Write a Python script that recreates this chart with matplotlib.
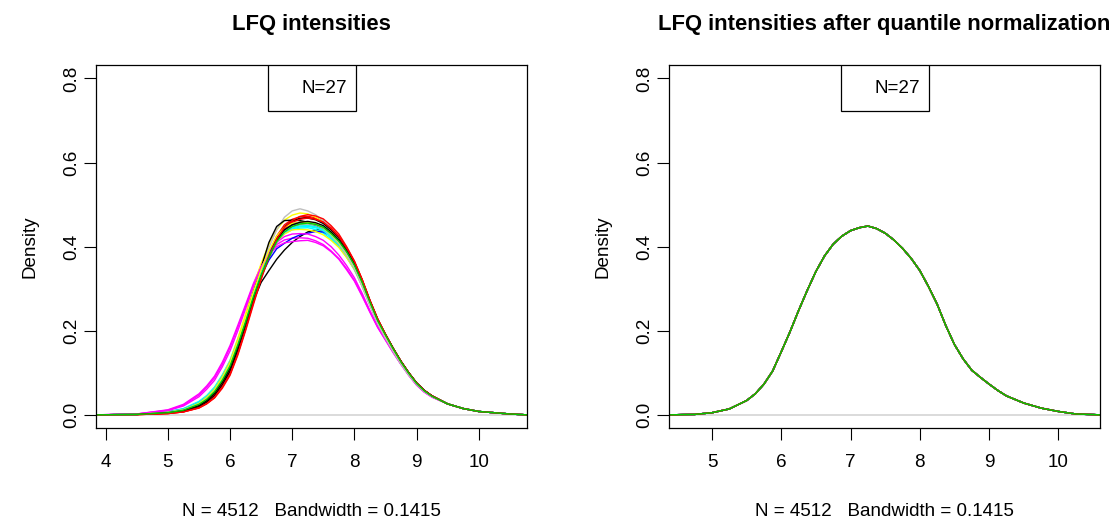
import matplotlib
matplotlib.use("Agg")
import matplotlib.pyplot as plt
from matplotlib.patches import Rectangle

plt.rcParams['font.family'] = ['Liberation Sans', 'DejaVu Sans']

# R default palette, cycled over the 27 samples
palette = ['black', '#FF0000', '#00CD00', '#0000FF', '#00FFFF', '#FF00FF', '#FFFF00', '#BEBEBE']
n_samples = 27
sample_colors = [palette[i % len(palette)] for i in range(n_samples)]

# density grid (log2 LFQ intensity) for the raw samples
x_raw = [3.85, 4.5, 5.0, 5.25,
         5.5, 5.625, 5.75, 5.875, 6.0, 6.125, 6.25, 6.375, 6.5, 6.625, 6.75, 6.875, 7.0,
         7.125, 7.25, 7.375, 7.5, 7.625, 7.75, 7.875,
         8.0, 8.125, 8.25, 8.375, 8.5, 8.625, 8.75, 8.875, 9.0, 9.125, 9.25,
         9.5, 9.75, 10.0, 10.5, 10.77]

# one row per sample
dens_raw = [
    [0, 0.001, 0.005, 0.010, 0.022, 0.033, 0.050, 0.077, 0.110, 0.160, 0.215, 0.270, 0.315, 0.343, 0.370, 0.392, 0.410, 0.424, 0.435, 0.440, 0.440, 0.433, 0.415, 0.388, 0.358, 0.316, 0.270, 0.226, 0.190, 0.157, 0.127, 0.100, 0.076, 0.058, 0.045, 0.026, 0.015, 0.008, 0.002, 0],
    [0, 0.0005, 0.003, 0.007, 0.017, 0.027, 0.041, 0.066, 0.098, 0.146, 0.205, 0.270, 0.330, 0.385, 0.425, 0.452, 0.465, 0.471, 0.472, 0.469, 0.460, 0.445, 0.425, 0.398, 0.365, 0.322, 0.273, 0.228, 0.191, 0.158, 0.128, 0.100, 0.076, 0.058, 0.045, 0.026, 0.015, 0.008, 0.002, 0],
    [0, 0.001, 0.005, 0.012, 0.027, 0.039, 0.056, 0.084, 0.118, 0.167, 0.222, 0.283, 0.335, 0.378, 0.412, 0.436, 0.449, 0.456, 0.457, 0.453, 0.443, 0.428, 0.408, 0.383, 0.352, 0.312, 0.266, 0.222, 0.187, 0.155, 0.126, 0.099, 0.075, 0.057, 0.044, 0.026, 0.015, 0.008, 0.002, 0],
    [0, 0.001, 0.007, 0.014, 0.030, 0.043, 0.062, 0.091, 0.125, 0.176, 0.230, 0.290, 0.340, 0.385, 0.420, 0.443, 0.455, 0.457, 0.456, 0.450, 0.440, 0.424, 0.405, 0.379, 0.348, 0.308, 0.262, 0.220, 0.186, 0.154, 0.124, 0.097, 0.074, 0.056, 0.044, 0.026, 0.015, 0.008, 0.002, 0],
    [0, 0.001, 0.007, 0.015, 0.032, 0.046, 0.066, 0.095, 0.130, 0.180, 0.232, 0.290, 0.338, 0.380, 0.412, 0.432, 0.440, 0.444, 0.445, 0.441, 0.432, 0.418, 0.400, 0.375, 0.345, 0.306, 0.262, 0.220, 0.186, 0.154, 0.124, 0.097, 0.074, 0.056, 0.044, 0.026, 0.015, 0.008, 0.002, 0],
    [0, 0.002, 0.012, 0.025, 0.050, 0.069, 0.092, 0.125, 0.165, 0.213, 0.262, 0.312, 0.355, 0.385, 0.405, 0.416, 0.420, 0.421, 0.420, 0.414, 0.405, 0.390, 0.372, 0.348, 0.320, 0.284, 0.245, 0.208, 0.178, 0.148, 0.120, 0.094, 0.071, 0.054, 0.042, 0.026, 0.015, 0.008, 0.002, 0],
    [0, 0.001, 0.006, 0.013, 0.029, 0.043, 0.062, 0.092, 0.128, 0.182, 0.240, 0.305, 0.360, 0.405, 0.440, 0.463, 0.475, 0.480, 0.478, 0.470, 0.458, 0.440, 0.418, 0.390, 0.356, 0.312, 0.266, 0.222, 0.188, 0.155, 0.125, 0.098, 0.074, 0.057, 0.044, 0.026, 0.015, 0.008, 0.002, 0],
    [0, 0.001, 0.005, 0.011, 0.025, 0.037, 0.056, 0.083, 0.118, 0.170, 0.225, 0.290, 0.345, 0.398, 0.440, 0.470, 0.485, 0.490, 0.485, 0.476, 0.462, 0.442, 0.418, 0.388, 0.352, 0.308, 0.262, 0.219, 0.184, 0.152, 0.122, 0.096, 0.073, 0.056, 0.043, 0.026, 0.015, 0.008, 0.002, 0],
    [0, 0.001, 0.006, 0.012, 0.026, 0.038, 0.056, 0.084, 0.118, 0.170, 0.228, 0.292, 0.350, 0.410, 0.448, 0.462, 0.463, 0.462, 0.458, 0.451, 0.440, 0.424, 0.405, 0.380, 0.350, 0.310, 0.265, 0.221, 0.188, 0.156, 0.125, 0.098, 0.074, 0.057, 0.044, 0.026, 0.015, 0.008, 0.002, 0],
    [0, 0.001, 0.004, 0.009, 0.020, 0.031, 0.048, 0.073, 0.105, 0.155, 0.212, 0.275, 0.330, 0.380, 0.420, 0.446, 0.460, 0.467, 0.470, 0.466, 0.458, 0.443, 0.422, 0.395, 0.362, 0.320, 0.270, 0.226, 0.190, 0.157, 0.126, 0.099, 0.075, 0.057, 0.044, 0.026, 0.015, 0.008, 0.002, 0],
    [0, 0.001, 0.005, 0.010, 0.024, 0.036, 0.054, 0.080, 0.114, 0.162, 0.218, 0.278, 0.328, 0.372, 0.410, 0.432, 0.445, 0.450, 0.452, 0.449, 0.442, 0.428, 0.410, 0.385, 0.354, 0.314, 0.268, 0.224, 0.190, 0.157, 0.126, 0.099, 0.075, 0.057, 0.044, 0.026, 0.015, 0.008, 0.002, 0],
    [0, 0.001, 0.006, 0.013, 0.028, 0.041, 0.060, 0.089, 0.124, 0.175, 0.228, 0.285, 0.330, 0.368, 0.395, 0.408, 0.420, 0.428, 0.432, 0.436, 0.435, 0.425, 0.408, 0.383, 0.352, 0.311, 0.266, 0.222, 0.188, 0.155, 0.125, 0.098, 0.075, 0.057, 0.044, 0.026, 0.015, 0.008, 0.002, 0],
    [0, 0.001, 0.006, 0.013, 0.029, 0.042, 0.061, 0.090, 0.124, 0.176, 0.228, 0.288, 0.336, 0.378, 0.412, 0.432, 0.442, 0.447, 0.448, 0.445, 0.438, 0.422, 0.404, 0.378, 0.348, 0.308, 0.263, 0.220, 0.187, 0.155, 0.124, 0.097, 0.074, 0.056, 0.044, 0.026, 0.015, 0.008, 0.002, 0],
    [0, 0.002, 0.010, 0.021, 0.043, 0.061, 0.082, 0.114, 0.152, 0.200, 0.252, 0.305, 0.350, 0.385, 0.410, 0.424, 0.430, 0.431, 0.430, 0.424, 0.415, 0.400, 0.380, 0.355, 0.326, 0.289, 0.248, 0.211, 0.180, 0.150, 0.121, 0.095, 0.072, 0.055, 0.043, 0.026, 0.015, 0.008, 0.002, 0],
    [0, 0.001, 0.006, 0.012, 0.027, 0.040, 0.058, 0.086, 0.120, 0.172, 0.226, 0.285, 0.336, 0.380, 0.412, 0.430, 0.440, 0.441, 0.440, 0.436, 0.428, 0.415, 0.398, 0.374, 0.346, 0.306, 0.262, 0.220, 0.187, 0.155, 0.124, 0.097, 0.074, 0.056, 0.044, 0.026, 0.015, 0.008, 0.002, 0],
    [0, 0.001, 0.005, 0.011, 0.025, 0.038, 0.056, 0.084, 0.118, 0.168, 0.222, 0.280, 0.332, 0.375, 0.410, 0.433, 0.445, 0.450, 0.452, 0.448, 0.440, 0.424, 0.405, 0.378, 0.348, 0.305, 0.260, 0.218, 0.183, 0.151, 0.121, 0.095, 0.072, 0.055, 0.043, 0.026, 0.015, 0.008, 0.002, 0],
    [0, 0.001, 0.004, 0.008, 0.019, 0.030, 0.046, 0.071, 0.104, 0.154, 0.210, 0.272, 0.328, 0.378, 0.420, 0.447, 0.462, 0.467, 0.468, 0.464, 0.455, 0.440, 0.422, 0.395, 0.362, 0.320, 0.271, 0.227, 0.191, 0.158, 0.127, 0.100, 0.076, 0.058, 0.045, 0.026, 0.015, 0.008, 0.002, 0],
    [0, 0.0005, 0.003, 0.007, 0.016, 0.026, 0.040, 0.063, 0.094, 0.142, 0.200, 0.262, 0.322, 0.375, 0.415, 0.443, 0.458, 0.465, 0.468, 0.465, 0.458, 0.443, 0.424, 0.396, 0.364, 0.321, 0.272, 0.228, 0.192, 0.158, 0.127, 0.100, 0.076, 0.058, 0.045, 0.026, 0.015, 0.008, 0.002, 0],
    [0, 0.001, 0.005, 0.011, 0.025, 0.037, 0.056, 0.083, 0.118, 0.168, 0.224, 0.282, 0.334, 0.377, 0.412, 0.436, 0.448, 0.454, 0.456, 0.453, 0.446, 0.430, 0.412, 0.386, 0.354, 0.313, 0.266, 0.223, 0.189, 0.156, 0.126, 0.099, 0.075, 0.057, 0.044, 0.026, 0.015, 0.008, 0.002, 0],
    [0, 0.001, 0.006, 0.012, 0.027, 0.040, 0.058, 0.087, 0.121, 0.172, 0.226, 0.284, 0.336, 0.380, 0.415, 0.438, 0.450, 0.455, 0.456, 0.452, 0.444, 0.428, 0.408, 0.382, 0.350, 0.310, 0.264, 0.221, 0.188, 0.155, 0.125, 0.098, 0.074, 0.057, 0.044, 0.026, 0.015, 0.008, 0.002, 0],
    [0, 0.001, 0.006, 0.013, 0.028, 0.041, 0.060, 0.088, 0.123, 0.174, 0.228, 0.287, 0.337, 0.378, 0.413, 0.434, 0.445, 0.449, 0.450, 0.447, 0.440, 0.425, 0.406, 0.380, 0.350, 0.309, 0.264, 0.221, 0.187, 0.155, 0.125, 0.098, 0.074, 0.057, 0.044, 0.026, 0.015, 0.008, 0.002, 0],
    [0, 0.002, 0.011, 0.023, 0.047, 0.066, 0.088, 0.120, 0.160, 0.208, 0.258, 0.308, 0.352, 0.380, 0.400, 0.409, 0.412, 0.414, 0.415, 0.410, 0.402, 0.388, 0.370, 0.345, 0.318, 0.282, 0.244, 0.208, 0.178, 0.148, 0.120, 0.094, 0.071, 0.054, 0.042, 0.026, 0.015, 0.008, 0.002, 0],
    [0, 0.001, 0.006, 0.012, 0.027, 0.041, 0.060, 0.089, 0.124, 0.177, 0.232, 0.292, 0.345, 0.390, 0.425, 0.446, 0.455, 0.458, 0.458, 0.453, 0.444, 0.428, 0.408, 0.381, 0.350, 0.309, 0.264, 0.221, 0.187, 0.155, 0.125, 0.098, 0.074, 0.057, 0.044, 0.026, 0.015, 0.008, 0.002, 0],
    [0, 0.001, 0.005, 0.011, 0.025, 0.037, 0.055, 0.082, 0.116, 0.166, 0.220, 0.278, 0.332, 0.376, 0.412, 0.436, 0.448, 0.454, 0.455, 0.452, 0.445, 0.430, 0.410, 0.382, 0.350, 0.306, 0.260, 0.217, 0.182, 0.150, 0.120, 0.094, 0.072, 0.055, 0.043, 0.026, 0.015, 0.008, 0.002, 0],
    [0, 0.001, 0.005, 0.010, 0.022, 0.034, 0.052, 0.078, 0.112, 0.162, 0.218, 0.276, 0.330, 0.376, 0.415, 0.440, 0.452, 0.458, 0.460, 0.457, 0.450, 0.435, 0.416, 0.390, 0.358, 0.317, 0.270, 0.226, 0.191, 0.158, 0.127, 0.100, 0.076, 0.058, 0.045, 0.026, 0.015, 0.008, 0.002, 0],
    [0, 0.0005, 0.003, 0.007, 0.017, 0.027, 0.042, 0.066, 0.097, 0.146, 0.204, 0.266, 0.325, 0.377, 0.418, 0.446, 0.462, 0.472, 0.476, 0.473, 0.466, 0.450, 0.430, 0.400, 0.366, 0.322, 0.272, 0.228, 0.192, 0.158, 0.127, 0.100, 0.076, 0.058, 0.045, 0.026, 0.015, 0.008, 0.002, 0],
    [0, 0.001, 0.005, 0.011, 0.025, 0.037, 0.055, 0.082, 0.116, 0.166, 0.221, 0.280, 0.332, 0.376, 0.412, 0.435, 0.448, 0.454, 0.456, 0.453, 0.446, 0.431, 0.413, 0.388, 0.356, 0.315, 0.268, 0.224, 0.190, 0.157, 0.126, 0.099, 0.075, 0.057, 0.044, 0.026, 0.015, 0.008, 0.002, 0],
]

# after quantile normalization all samples share one density
x_norm = [4.38, 4.75, 5.0, 5.25,
          5.5, 5.625, 5.75, 5.875, 6.0, 6.125, 6.25, 6.375, 6.5, 6.625, 6.75, 6.875, 7.0,
          7.125, 7.25, 7.375, 7.5, 7.625, 7.75, 7.875,
          8.0, 8.125, 8.25, 8.375, 8.5, 8.625, 8.75, 8.875, 9.0, 9.125, 9.25,
          9.5, 9.75, 10.0, 10.25, 10.6]
dens_norm = [0.0, 0.001, 0.005, 0.014,
             0.034, 0.050, 0.073, 0.104, 0.150, 0.197, 0.248, 0.296, 0.341, 0.378, 0.406, 0.425, 0.438,
             0.445, 0.449, 0.443, 0.432, 0.416, 0.396, 0.372,
             0.343, 0.305, 0.263, 0.212, 0.167, 0.133, 0.106, 0.089, 0.073, 0.058, 0.045,
             0.028, 0.016, 0.008, 0.002, 0.0]

titles = ['LFQ intensities', 'LFQ intensities after quantile normalization']
xlabel = 'N = 4512   Bandwidth = 0.1415'
legend_text = 'N=%d' % n_samples

fig = plt.figure(figsize=(11.18, 5.23), dpi=100)
ax1 = fig.add_axes([0.0859, 0.1811, 0.3852, 0.6946])
ax2 = fig.add_axes([0.5984, 0.1811, 0.3855, 0.6946])

for ys, c in zip(dens_raw, sample_colors):
    ax1.plot(x_raw, ys, color=c, lw=1.0, solid_joinstyle='round')
for c in sample_colors:
    ax2.plot(x_norm, dens_norm, color=c, lw=1.0, solid_joinstyle='round')

ax1.set_xlim(3.844, 10.772)
ax1.set_xticks([4, 5, 6, 7, 8, 9, 10])
ax2.set_xlim(4.38, 10.60)
ax2.set_xticks([5, 6, 7, 8, 9, 10])

for ax, title in zip([ax1, ax2], titles):
    ax.axhline(0, color='#d8d8d8', lw=1.3, zorder=0)
    ax.set_ylim(-0.032, 0.832)
    ax.set_yticks([0.0, 0.2, 0.4, 0.6, 0.8])
    ax.set_yticklabels(['0.0', '0.2', '0.4', '0.6', '0.8'])
    ax.set_title(title, fontsize=15.8, fontweight='bold', pad=25)
    ax.set_xlabel(xlabel, fontsize=13.6, labelpad=23)
    ax.set_ylabel('Density', fontsize=13.6, labelpad=18)
    ax.tick_params(length=8.6, width=0.8, labelsize=13.6)
    ax.tick_params(axis='x', pad=10)
    ax.tick_params(axis='y', pad=2.5)
    for lab in ax.get_yticklabels():
        lab.set_rotation(90)
        lab.set_va('center')
    for sp in ax.spines.values():
        sp.set_linewidth(0.9)
        sp.set_color('black')
    # legend box as drawn by R's legend("top", ...)
    ax.add_patch(Rectangle((0.3987, 0.8742), 0.205, 0.1258, transform=ax.transAxes,
                           facecolor='white', edgecolor='black', lw=0.9, zorder=5))
    ax.text(0.5821, 0.9367, legend_text, transform=ax.transAxes, fontsize=13.6,
            ha='right', va='center', zorder=6)

fig.savefig('out.png', dpi=100)
